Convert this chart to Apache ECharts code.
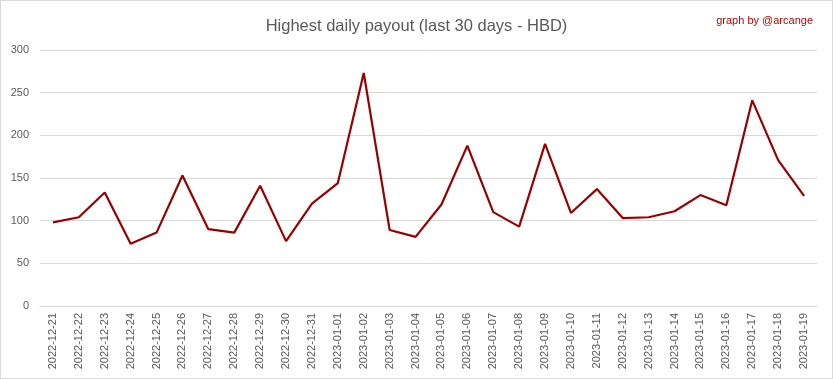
<!DOCTYPE html>
<html><head><meta charset="utf-8">
<script src="https://cdn.jsdelivr.net/npm/echarts@6/dist/echarts.min.js"></script>
<style>html,body{margin:0;padding:0;background:#fff}#c{width:833px;height:379px;box-sizing:border-box;border:1px solid #d9d9d9;}</style>
</head><body><div id="c"></div>
<script>
const categories = ["2022-12-21","2022-12-22","2022-12-23","2022-12-24","2022-12-25","2022-12-26","2022-12-27","2022-12-28","2022-12-29","2022-12-30","2022-12-31","2023-01-01","2023-01-02","2023-01-03","2023-01-04","2023-01-05","2023-01-06","2023-01-07","2023-01-08","2023-01-09","2023-01-10","2023-01-11","2023-01-12","2023-01-13","2023-01-14","2023-01-15","2023-01-16","2023-01-17","2023-01-18","2023-01-19"];
const payout = [98,104,133,73,86,153,90,86,141,76,120,144,273,89,81,119,188,110,93,190,109,137,103,104,111,130,118,241,171,129];
const yTicks = [0,50,100,150,200,250,300];
const titleText = "Highest daily payout (last 30 days - HBD)";
const creditText = "graph by @arcange";

const chart = echarts.init(document.getElementById('c'));
chart.setOption({
  animation:false,
  backgroundColor:'#fff',
  title:[{text:titleText,left:'center',top:12,textStyle:{fontFamily:'Liberation Sans',fontWeight:'normal',fontSize:16.5,color:'#595959'}},
         {text:creditText,right:14,top:9,textStyle:{fontFamily:'Liberation Sans',fontWeight:'normal',fontSize:11,color:'#c00000'}}],
  grid:{left:39,right:15,top:49,bottom:72,containLabel:false},
  xAxis:{type:'category',data:categories,boundaryGap:true,
    axisLine:{show:true,lineStyle:{color:'#d9d9d9'}},axisTick:{show:false},
    axisLabel:{rotate:90,interval:0,fontFamily:'Liberation Sans',fontSize:11,color:'#595959',margin:7}},
  yAxis:{type:'value',min:yTicks[0],max:yTicks[yTicks.length-1],interval:50,
    axisLine:{show:false},axisTick:{show:false},
    splitLine:{lineStyle:{color:'#d9d9d9',width:1}},
    axisLabel:{fontFamily:'Liberation Sans',fontSize:11,color:'#595959',margin:11}},
  series:[{type:'line',data:payout,symbol:'none',lineStyle:{color:'#990000',width:2.2}}]
});
</script></body></html>
